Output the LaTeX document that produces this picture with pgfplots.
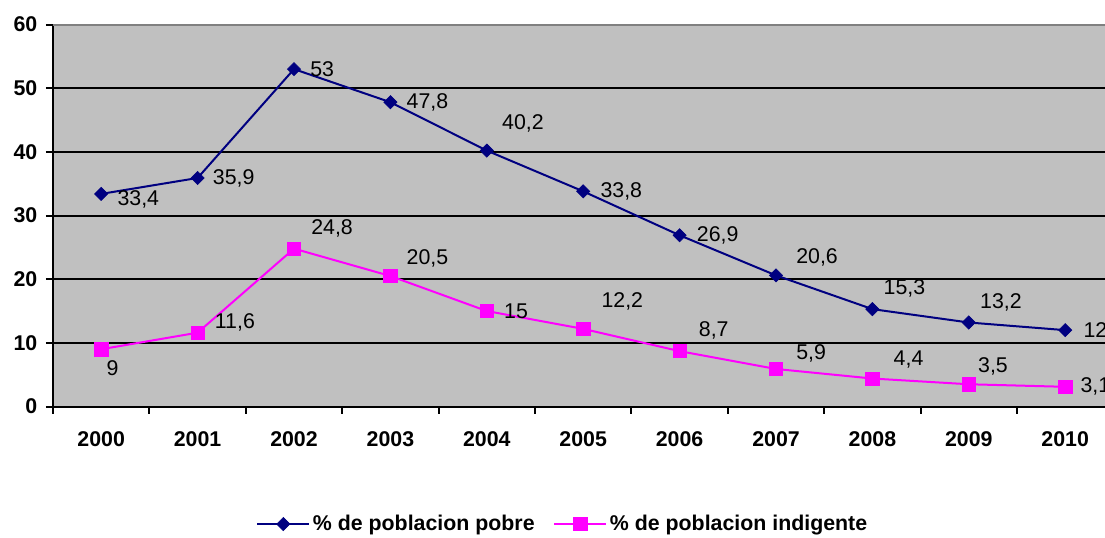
\documentclass[border=0pt]{standalone}
\usepackage{pgfplots}
\usepackage{pgfplotstable}
\pgfplotsset{compat=1.18}
\usepackage{fontspec}
\setmainfont{Liberation Sans}
\definecolor{bgc}{HTML}{C0C0C0}
\definecolor{navy}{HTML}{000080}
\definecolor{mag}{HTML}{FF00FF}
\pgfplotstableread{
x y lbl dx dy
0 33.4 33,4 16 -6
1 35.9 35,9 15 0
2 53 53 16 0
3 47.8 47,8 16 0
4 40.2 40,2 15 27
5 33.8 33,8 17 0
6 26.9 26,9 17 0
7 20.6 20,6 20 18
8 15.3 15,3 11 21
9 13.2 13,2 11 20
10 12 12 18 0
}\pobre
\pgfplotstableread{
x y lbl dx dy
0 9 9 5 -19
1 11.6 11,6 17 10
2 24.8 24,8 17 20
3 20.5 20,5 16 18
4 15 15 17 0
5 12.2 12,2 18 27
6 8.7 8,7 19 21
7 5.9 5,9 20 16
8 4.4 4,4 21 19
9 3.5 3,5 9 18
10 3.1 3,1 15 0
}\indig
\begin{document}
\fontsize{16}{19}\selectfont
\begin{tikzpicture}
\begin{axis}[
  at={(0,0)}, anchor=south west,
  scale only axis, width=795.3pt, height=286.5pt,
  xmin=-0.5, xmax=10.5, ymin=0, ymax=60,
  clip=false,
  axis background/.style={fill=bgc},
  axis x line*=bottom, axis y line*=left,
  axis line style={line width=1.5pt, black, -},
  xtick={0,...,10},
  xticklabels={2000,2001,2002,2003,2004,2005,2006,2007,2008,2009,2010},
  minor xtick={-0.5,0.5,...,10.5},
  every major x tick/.append style={draw opacity=0},
  ytick={0,10,...,50},
  extra y ticks={60},
  extra y tick style={major grid style={draw=gray, line width=1.5pt}},
  ymajorgrids,
  major grid style={draw=black, line width=1.5pt},
  tick align=outside,
  major tick length=5.25pt,
  minor tick length=5.25pt,
  tick style={black, line width=1.5pt},
  every tick label/.append style={font=\fontsize{16}{19}\bfseries},
  /pgf/number format/assume math mode=true,
  xticklabel style={yshift=-8pt},
  yticklabel style={xshift=-1pt},
  legend style={at={(axis description cs:0.481,-0.3076)}, anchor=center, draw=none, fill=none,
    font=\fontsize{16}{19}\bfseries\selectfont,
    /tikz/every even column/.append style={column sep=12pt}},
  legend columns=2,
  legend image code/.code={\draw[mark repeat=2,mark phase=2] plot coordinates {(0pt,0pt) (19.5pt,0pt) (39pt,0pt)};},
  nodes near coords,
  point meta=explicit symbolic,
  nodes near coords style={anchor=west, inner sep=0pt, text=black,
    font=\fontsize{16}{19}\selectfont,
    xshift={\dx*0.75pt}, yshift={\dy*0.75pt}},
]
\addplot[navy, line width=1.5pt, mark=square*, mark size=3.5pt,
  mark options={rotate=45, fill=navy, draw=navy, line width=0.5pt},
  visualization depends on={\thisrow{dx} \as \dx},
  visualization depends on={\thisrow{dy} \as \dy}]
  table[x=x, y=y, meta=lbl] {\pobre};
\addlegendentry{\% de poblacion pobre}
\addplot[mag, line width=1.5pt, mark=square*, mark size=5pt,
  mark options={fill=mag, draw=mag, line width=0.5pt},
  visualization depends on={\thisrow{dx} \as \dx},
  visualization depends on={\thisrow{dy} \as \dy}]
  table[x=x, y=y, meta=lbl] {\indig};
\addlegendentry{\% de poblacion indigente}
\end{axis}
\pgfresetboundingbox
\path (-39.75pt,-97.9pt) rectangle (789pt,304.9pt);
\end{tikzpicture}
\end{document}
